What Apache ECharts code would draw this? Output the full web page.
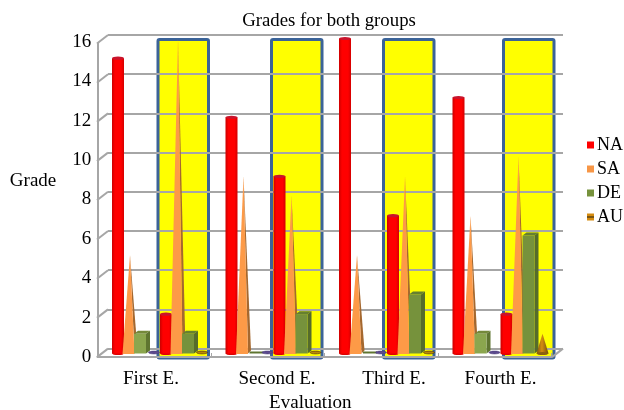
<!DOCTYPE html>
<html><head><meta charset="utf-8">
<style>html,body{margin:0;padding:0;background:#fff}#c{width:624px;height:410px}</style>
<script src="https://cdn.jsdelivr.net/npm/echarts@6/dist/echarts.min.js"></script>
</head><body><div id="c"></div>
<script>
var categories = ['First E.', 'Second E.', 'Third E.', 'Fourth E.'];
var legendNames = ['NA', 'SA', 'DE', 'AU'];
var na1 = [15, 12, 16, 13];
var sa1 = [5, 9, 5, 7];
var de1 = [1, 0, 0, 1];
var au1 = [0, 0, 0, 0];
var na2 = [2, 9, 7, 2];
var sa2 = [16, 8, 9, 10];
var de2 = [1, 2, 3, 6];
var au2 = [0, 0, 0, 1];
var yTicks = [0, 2, 4, 6, 8, 10, 12, 14, 16];
var boxTops = [16, 16, 16, 16];

var FONT = '"Liberation Serif"';
var GREY = '#a6a6a6';
var SLOT = 12;
var LG = echarts.graphic.LinearGradient;
function hGrad(stops) {
  return new LG(0, 0, 1, 0, stops.map(function (s) { return { offset: s[0], color: s[1] }; }));
}
var BOX_SHIFT = [-3.5, -3.5, -5, 1.5];
var LABEL_PAD = [[3, 18, 0, 0], [3, 0, 0, 7], [3, 0, 0, 14], [3, 0, 0, 0]];

function toData(arr) { return arr.map(function (v, i) { return [i, v]; }); }

function shape(kind, slot, col) {
  return function (params, api) {
    var p = api.coord([api.value(0), api.value(1)]);
    var b = api.coord([api.value(0), 0]);
    var cx = p[0] - 48 + SLOT * slot + SLOT / 2;
    var t = p[1], y0 = b[1], v = api.value(1), w = SLOT / 2, kids = [];
    if (kind === 'cyl') {
      kids.push({ type: 'ellipse', shape: { cx: cx, cy: y0, rx: w, ry: 1.6 }, style: { fill: '#e00000' } });
      kids.push({ type: 'rect', shape: { x: cx - w, y: t, width: SLOT, height: y0 - t },
        style: { fill: hGrad([[0, '#cc0000'], [0.25, '#ff0000'], [0.75, '#ff0000'], [1, '#d40000']]) } });
      kids.push({ type: 'ellipse', shape: { cx: cx, cy: t, rx: w, ry: 1.6 }, style: { fill: '#c9142c' } });
    } else if (kind === 'tri') {
      kids.push({ type: 'polygon', shape: { points: [[cx, t], [cx + 4.5, y0], [cx + 7.5, y0 - 3]] }, style: { fill: '#a5682f' } });
      kids.push({ type: 'polygon', shape: { points: [[cx, t], [cx - 7.5, y0 + 0.5], [cx + 4.5, y0 + 0.5]] }, style: { fill: col } });
    } else if (kind === 'box') {
      if (v === 0) {
        kids.push({ type: 'rect', shape: { x: cx - w, y: y0 - 2, width: SLOT + 2, height: 2 }, style: { fill: col.side } });
      } else {
        var l = cx - w - 2;
        kids.push({ type: 'polygon', shape: { points: [[l, t], [l + 4, t - 3], [l + SLOT + 4, t - 3], [l + SLOT, t]] }, style: { fill: col.top } });
        kids.push({ type: 'polygon', shape: { points: [[l + SLOT, t], [l + SLOT + 4, t - 3], [l + SLOT + 4, y0 - 3], [l + SLOT, y0]] }, style: { fill: col.side } });
        kids.push({ type: 'rect', shape: { x: l, y: t, width: SLOT, height: y0 - t }, style: { fill: col.front } });
      }
    } else if (kind === 'cone') {
      if (v === 0) {
        kids.push({ type: 'ellipse', shape: { cx: cx, cy: y0 - 1, rx: w - 0.5, ry: 1.4 }, style: { fill: col.dash, stroke: col.edge, lineWidth: 0.6 } });
      } else {
        kids.push({ type: 'polygon', shape: { points: [[cx, t], [cx - w, y0], [cx + w, y0]] },
          style: { fill: hGrad([[0, '#7b5510'], [0.45, '#d58c10'], [1, '#6d4a0c']]) } });
        kids.push({ type: 'ellipse', shape: { cx: cx, cy: y0, rx: w, ry: 1.6 }, style: { fill: '#8a5f10' } });
      }
    }
    return { type: 'group', children: kids };
  };
}

function boxRender(params, api) {
  var i = api.value(0);
  var p = api.coord([i, api.value(1)]);
  var b = api.coord([i, 0]);
  var s = BOX_SHIFT[i];
  return { type: 'rect',
    shape: { x: p[0] + s + 1.5, y: p[1] + 1, width: 50.5, height: b[1] - p[1] + 3.5, r: 1.5 },
    style: { fill: '#ffff00', stroke: '#3b6398', lineWidth: 3 } };
}

function wallRender(params, api) {
  var y = api.coord([0, api.value(0)])[1];
  var c = params.coordSys;
  var lines = [{ type: 'line', shape: { x1: c.x, y1: y, x2: c.x - 11, y2: y + 8.5 }, style: { stroke: GREY, lineWidth: 2 } }];
  if (api.value(0) === 0) {
    lines.push({ type: 'line', shape: { x1: c.x + c.width, y1: y, x2: c.x + c.width - 11, y2: y + 8.5 }, style: { stroke: GREY, lineWidth: 2 } });
  }
  return { type: 'group', children: lines };
}

function custom(name, data, kind, slot, col, legendCol) {
  return { type: 'custom', name: name, xAxisIndex: 2, yAxisIndex: 2, z: 5, silent: true, clip: false,
    encode: { x: 0, y: 1 }, data: toData(data), renderItem: shape(kind, slot, col),
    itemStyle: { color: legendCol } };
}

var green1 = { front: '#8ba64e', side: '#5f7530', top: '#74893a' };
var green2 = { front: '#76923c', side: '#566c2b', top: '#66802f' };
var redL = '#ff0000', orangeL = '#f79646', greenL = '#76923c';
var auL = new LG(0, 0, 0, 1, [
  { offset: 0, color: '#d58c10' }, { offset: 0.4, color: '#d58c10' },
  { offset: 0.4, color: '#7b5510' }, { offset: 0.6, color: '#7b5510' },
  { offset: 0.6, color: '#d58c10' }, { offset: 1, color: '#d58c10' }]);
var axisFont = { fontFamily: FONT, fontSize: 19, color: '#000' };

var option = {
  animation: false,
  backgroundColor: '#fff',
  title: { text: 'Grades for both groups', left: 324, top: 7, textAlign: 'center',
    textStyle: { fontFamily: FONT, fontSize: 18.8, fontWeight: 'normal', color: '#000' } },
  legend: { show: true, data: legendNames, orient: 'vertical', left: 587, top: 136, itemWidth: 7, itemHeight: 7,
    itemGap: 6, icon: 'rect', selectedMode: false, padding: 0,
    textStyle: { fontFamily: FONT, fontSize: 18, color: '#000', padding: [0, 0, 0, -2] } },
  grid: [
    { left: 97.5, width: 454, top: 43.5, height: 313.5, outerBoundsMode: 'none' },
    { left: 108, width: 455, top: 35, height: 313.6, outerBoundsMode: 'none' },
    { left: 103.25, width: 454, top: 38.5, height: 315, outerBoundsMode: 'none' }
  ],
  xAxis: [
    { gridIndex: 0, type: 'category', data: categories, z: 1,
      axisLine: { lineStyle: { color: GREY, width: 2 } },
      axisTick: { show: true, inside: true, length: 4, lineStyle: { color: GREY, width: 1 } },
      axisLabel: { show: false }, splitLine: { show: false } },
    { gridIndex: 1, type: 'category', data: categories, show: false },
    { gridIndex: 2, type: 'category', data: categories.map(function (c, i) {
        return { value: c, textStyle: { padding: LABEL_PAD[i] } }; }),
      axisLine: { show: false }, axisTick: { show: false },
      axisLabel: Object.assign({ margin: 13, interval: 0 }, axisFont),
      name: 'Evaluation', nameLocation: 'middle', nameGap: 33,
      nameTextStyle: Object.assign({ padding: [0, 40, 0, 0] }, axisFont) }
  ],
  yAxis: [
    { gridIndex: 0, type: 'value', min: 0, max: 16, interval: 2, z: 1,
      axisLine: { show: true, lineStyle: { color: GREY, width: 2 } }, axisTick: { show: false },
      axisLabel: { show: false }, splitLine: { show: false } },
    { gridIndex: 1, type: 'value', min: 0, max: 16, interval: 2, z: 1,
      axisLine: { show: false }, axisTick: { show: false }, axisLabel: { show: false },
      splitLine: { show: true, lineStyle: { color: GREY, width: 2 } } },
    { gridIndex: 2, type: 'value', min: 0, max: 16, interval: 2,
      axisLine: { show: false }, axisTick: { show: false }, splitLine: { show: false },
      axisLabel: Object.assign({ margin: 12, verticalAlign: 'top', lineHeight: 7 }, axisFont),
      name: 'Grade', nameLocation: 'middle', nameRotate: 0, nameGap: 47,
      nameTextStyle: Object.assign({ verticalAlign: 'bottom', lineHeight: 30 }, axisFont) }
  ],
  series: [
    { type: 'custom', name: 'Groups', xAxisIndex: 2, yAxisIndex: 2, z: 0, silent: true, clip: false,
      encode: { x: 0, y: 1 }, data: toData(boxTops), renderItem: boxRender },
    { type: 'custom', name: 'Wall', xAxisIndex: 1, yAxisIndex: 1, z: 1, silent: true, clip: false,
      encode: { y: 0 }, data: yTicks.map(function (v) { return [v]; }), renderItem: wallRender },
    custom('NA', na1, 'cyl', 0, null, redL),
    custom('SA', sa1, 'tri', 1, '#fd9a47', orangeL),
    custom('DE', de1, 'box', 2, green1, greenL),
    custom('AU', au1, 'cone', 3, { dash: '#5c4a8e', edge: '#4a3a78' }, auL),
    custom('NA', na2, 'cyl', 4, null, redL),
    custom('SA', sa2, 'tri', 5, '#fd9a47', orangeL),
    custom('DE', de2, 'box', 6, green2, greenL),
    custom('AU', au2, 'cone', 7, { dash: '#b8860b', edge: '#4a3208' }, auL)
  ]
};
var chart = echarts.init(document.getElementById('c'), null, { renderer: 'canvas' });
chart.setOption(option);
</script></body></html>
